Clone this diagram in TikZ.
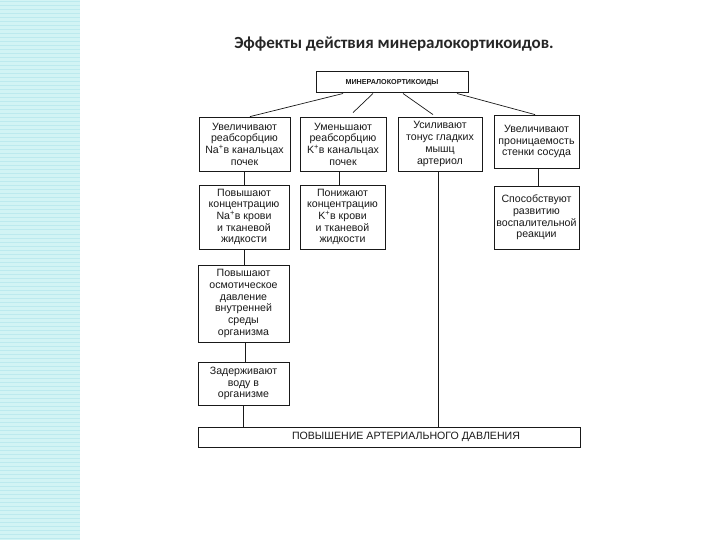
\documentclass[tikz,border=0pt]{standalone}
\usepackage{fontspec}
\setmainfont{Liberation Sans}
\newfontfamily\titlefont{Carlito}
\definecolor{stripbg}{RGB}{210,244,244}
\definecolor{stripln}{RGB}{188,234,238}
\definecolor{ink}{RGB}{25,25,25}
\begin{document}
\begin{tikzpicture}[x=1pt,y=-1pt,
  box/.style={draw=ink, line width=0.8pt, align=center, inner sep=0pt, text=ink,
    font=\fontsize{10.6}{11.7}\selectfont},
  conn/.style={draw=ink, line width=0.7pt}]
\useasboundingbox (0,0) rectangle (720,540);
\fill[white] (0,0) rectangle (720,540);
% left decorative strip
\fill[stripbg] (0,0) rectangle (80,540);
\foreach \yy in {2,6,...,538} {\draw[stripln, line width=1pt] (0,\yy) -- (80,\yy);}
% title
\node[font=\titlefont\bfseries\fontsize{17}{20}\selectfont, text=black!85, anchor=base] (title) at (394,49) {Эффекты действия минералокортикоидов.};
% boxes
\node[box, line width=1pt, minimum width=152, minimum height=21, font=\bfseries\fontsize{7.2}{9}\selectfont] (top) at (392,82.5) {МИНЕРАЛОКОРТИКОИДЫ};
\node[box, minimum width=91, minimum height=54] (b1) at (244.5,144) {Увеличивают\\реабсорбцию\\Na\textsuperscript{+}в канальцах\\почек};
\node[box, minimum width=86, minimum height=54] (b2) at (343,144) {Уменьшают\\реабсорбцию\\K\textsuperscript{+}в канальцах\\почек};
\node[box, minimum width=84, minimum height=54] (b3) at (440,144) {Усиливают\\тонус гладких\\мышц\\артериол};
\node[box, minimum width=85, minimum height=53] (b4) at (536.5,141.5) {Увеличивают\\проницаемость\\стенки сосуда};
\node[box, minimum width=90, minimum height=64] (a) at (244,217) {Повышают\\концентрацию\\Na\textsuperscript{+}в крови\\и тканевой\\жидкости};
\node[box, minimum width=85, minimum height=64] (bb) at (342.5,217) {Понижают\\концентрацию\\K\textsuperscript{+}в крови\\и тканевой\\жидкости};
\node[box, minimum width=85, minimum height=63] (c) at (536.5,217.5) {Способствуют\\развитию\\воспалительной\\реакции};
\node[box, minimum width=91, minimum height=77] (osm) at (243.5,303.5) {Повышают\\осмотическое\\давление\\внутренней\\среды\\организма};
\node[box, minimum width=91, minimum height=43] (zad) at (243.5,383.5) {Задерживают\\воду в\\организме};
\node[box, minimum width=382, minimum height=20, font=\fontsize{10.6}{12}\selectfont] (bot) at (389,437) {\hspace*{34pt}ПОВЫШЕНИЕ АРТЕРИАЛЬНОГО ДАВЛЕНИЯ};
% connectors from the top box
\draw[conn] ([xshift=-49pt]top.south) -- ([xshift=5.5pt]b1.north);
\draw[conn] ([xshift=-19pt]top.south) -- ([xshift=10pt,yshift=4pt]b2.north);
\draw[conn] ([xshift=11pt]top.south) -- ([xshift=-7pt,yshift=2pt]b3.north);
\draw[conn] ([xshift=65pt]top.south) -- ([xshift=-1.5pt]b4.north);
% vertical connectors
\draw[conn] (b1.south) -- (b1.south |- a.north);
\draw[conn] ([xshift=-4pt]b2.south) -- ([xshift=-3.5pt]bb.north);
\draw[conn] ([xshift=-2pt]b3.south) -- ([xshift=-2pt]b3.south |- bot.north);
\draw[conn] ([xshift=1.5pt]b4.south) -- ([xshift=1.5pt]c.north);
\draw[conn] (a.south) -- (a.south |- osm.north);
\draw[conn] ([xshift=2pt]osm.south) -- ([xshift=2pt]zad.north);
\draw[conn] (zad.south) -- (zad.south |- bot.north);
\end{tikzpicture}
\end{document}
